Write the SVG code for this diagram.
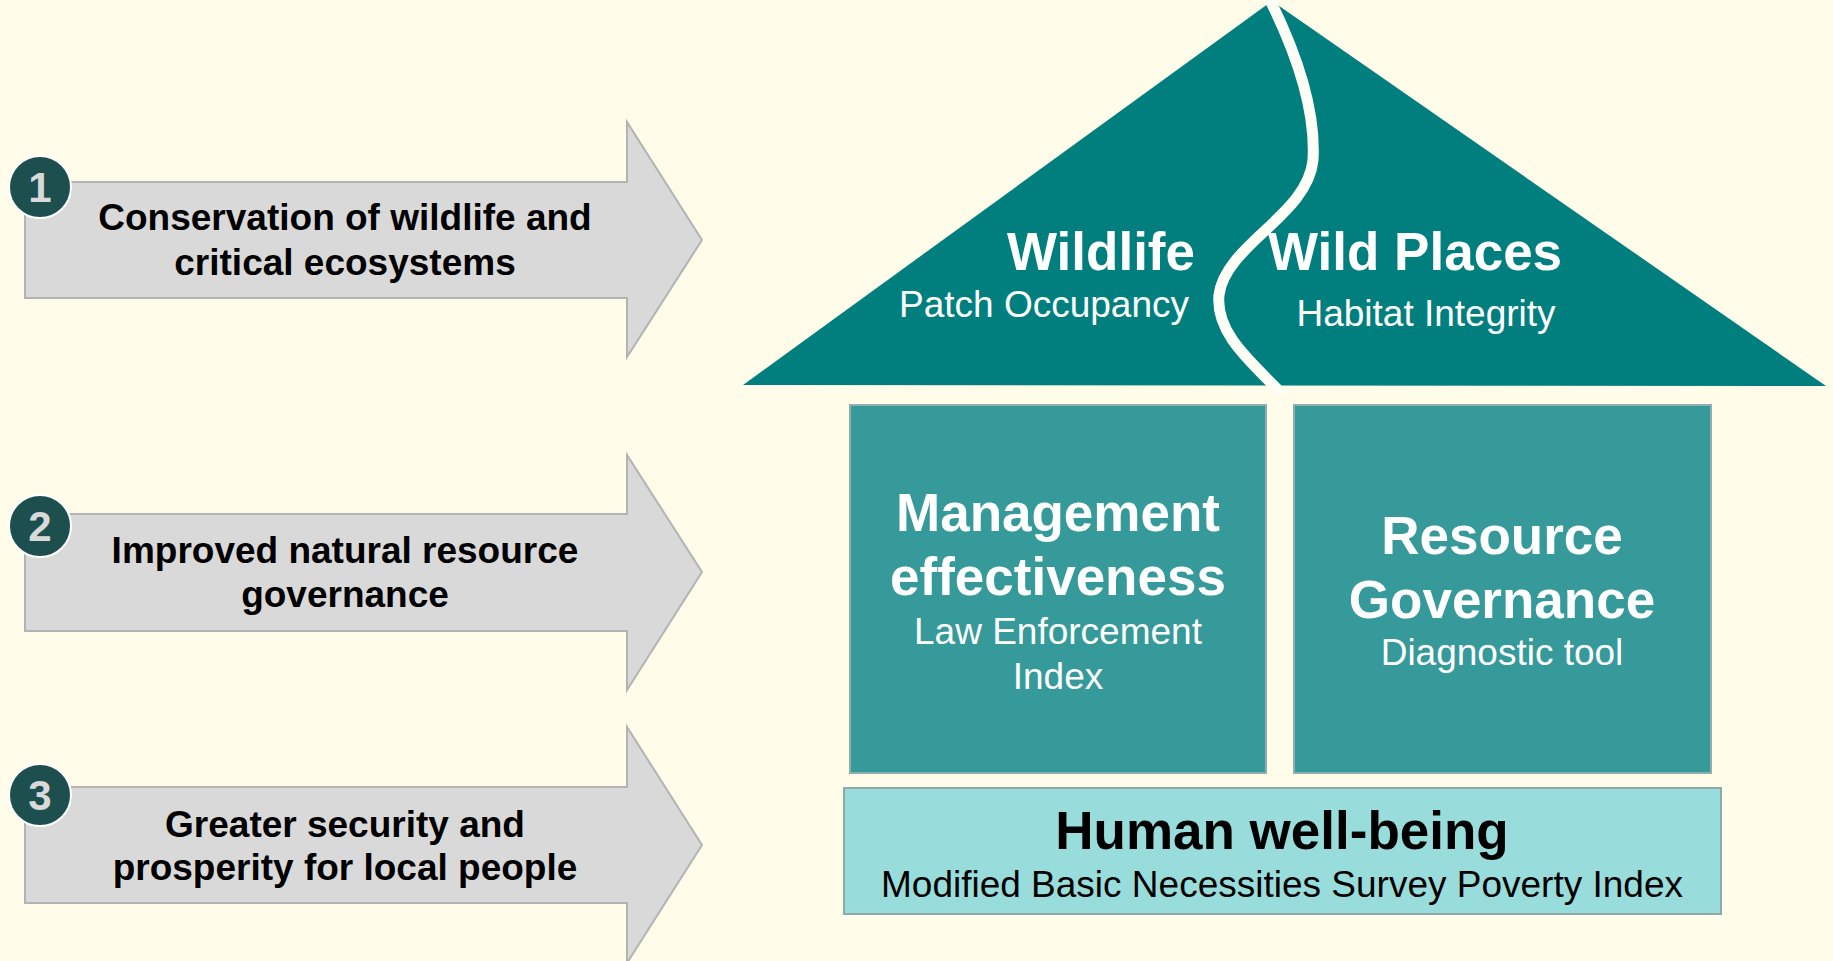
<svg xmlns="http://www.w3.org/2000/svg" width="1833" height="961" viewBox="0 0 1833 961">
<style>
.arrow{fill:#D9D9D9;stroke:#B3B3B3;stroke-width:2}
.badge{fill:#1C4F4E;stroke:#FFFFFF;stroke-width:2}
.num{font-family:"Liberation Sans",Arial,sans-serif;font-weight:bold;font-size:42px;fill:#D9D9D9;text-anchor:middle}
.alab{font-family:"Liberation Sans",Arial,sans-serif;font-weight:bold;font-size:37px;fill:#000;text-anchor:middle}
.big{font-family:"Liberation Sans",Arial,sans-serif;font-weight:bold;font-size:53px;fill:#FFFFFF}
.sub{font-family:"Liberation Sans",Arial,sans-serif;font-size:37px;fill:#FFFFFF}
.box{fill:#359A99;stroke:#8FAFAE;stroke-width:2}
</style>
<rect x="0" y="0" width="1833" height="961" fill="#FFFCE9"/>

<g id="arrow1">
<polygon class="arrow" points="25,182 627,182 627,122 702,240 627,357 627,298 25,298"/>
<circle class="badge" cx="40" cy="187" r="31"/>
<text class="num" x="40" y="202">1</text>
<text class="alab" x="345" y="230">Conservation of wildlife and</text>
<text class="alab" x="345" y="275">critical ecosystems</text>
</g>

<g id="arrow2">
<polygon class="arrow" points="25,514 627,514 627,455 702,572 627,690 627,631 25,631"/>
<circle class="badge" cx="40" cy="526" r="31"/>
<text class="num" x="40" y="541">2</text>
<text class="alab" x="345" y="563">Improved natural resource</text>
<text class="alab" x="345" y="607">governance</text>
</g>

<g id="arrow3">
<polygon class="arrow" points="25,787 627,787 627,727 702,845 627,963 627,903 25,903"/>
<circle class="badge" cx="40" cy="795" r="31"/>
<text class="num" x="40" y="810">3</text>
<text class="alab" x="345" y="837">Greater security and</text>
<text class="alab" x="345" y="880">prosperity for local people</text>
</g>

<g id="roof">
<polygon points="743,385 1272,1 1826,386" fill="#017F7E"/>
<path d="M1269,-2 C1295,50 1316,110 1313,160 C1308,215 1225,245 1219,295 C1215,335 1255,365 1282,394" fill="none" stroke="#FFFEF6" stroke-width="11"/>
</g>

<g id="wildlife">
<text class="big" x="1195" y="270" text-anchor="end">Wildlife</text>
<text class="sub" x="1044" y="317" text-anchor="middle">Patch Occupancy</text>
</g>

<g id="wildplaces">
<text class="big" x="1268" y="270">Wild Places</text>
<text class="sub" x="1426" y="326" text-anchor="middle">Habitat Integrity</text>
</g>

<g id="management">
<rect class="box" x="850" y="405" width="416" height="368"/>
<text class="big" x="1058" y="531" text-anchor="middle">Management</text>
<text class="big" x="1058" y="595" text-anchor="middle">effectiveness</text>
<text class="sub" x="1058" y="644" text-anchor="middle">Law Enforcement</text>
<text class="sub" x="1058" y="689" text-anchor="middle">Index</text>
</g>

<g id="governance">
<rect class="box" x="1294" y="405" width="417" height="368"/>
<text class="big" x="1502" y="554" text-anchor="middle">Resource</text>
<text class="big" x="1502" y="618" text-anchor="middle">Governance</text>
<text class="sub" x="1502" y="665" text-anchor="middle">Diagnostic tool</text>
</g>

<g id="wellbeing">
<rect x="844" y="788" width="877" height="126" fill="#98DDDB" stroke="#8FA9A9" stroke-width="2"/>
<text class="big" x="1282" y="849" text-anchor="middle" fill="#000" style="fill:#000">Human well-being</text>
<text class="sub" x="1282" y="897" text-anchor="middle" style="fill:#000">Modified Basic Necessities Survey Poverty Index</text>
</g>

<g id="connectors"></g>
</svg>
